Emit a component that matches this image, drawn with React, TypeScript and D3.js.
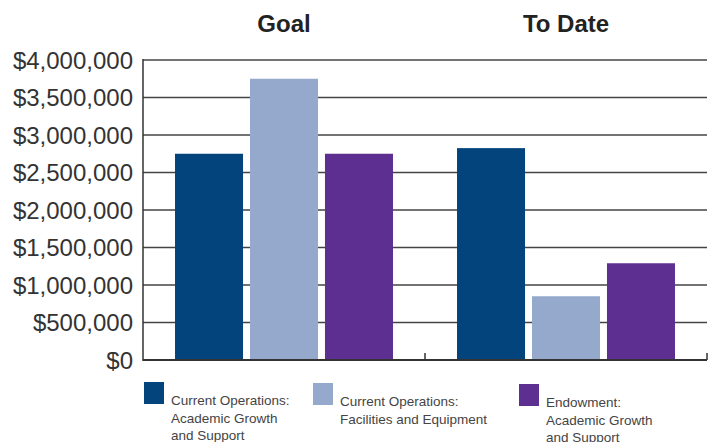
import React from "react";
import * as d3 from "d3";

const groups = ["Goal", "To Date"];
const seriesNames = [
  "Current Operations: Academic Growth and Support",
  "Current Operations: Facilities and Equipment",
  "Endowment: Academic Growth and Support",
];
const goalValues = [2750000, 3750000, 2750000];
const toDateValues = [2825000, 850000, 1290000];
const yTicks = [0, 500000, 1000000, 1500000, 2000000, 2500000, 3000000, 3500000, 4000000];
const colors = ["#03447c", "#94a9cb", "#5c2f91"];
const legendLines = [
  ["Current Operations:", "Academic Growth", "and Support"],
  ["Current Operations:", "Facilities and Equipment"],
  ["Endowment:", "Academic Growth", "and Support"],
];

const W = 714;
const H = 442;
const left = 143;
const right = 707;
const top = 60;
const bottom = 360;

export default function App() {
  const y = d3.scaleLinear().domain([0, 4000000]).range([bottom, top]);
  const x0 = d3.scaleBand<string>().domain(groups).range([left, right]).padding(0);
  const x1 = d3
    .scaleBand<string>()
    .domain(seriesNames)
    .range([0, x0.bandwidth()])
    .paddingInner(0.093)
    .paddingOuter(0.427);
  const fmt = (v: number) => "$" + d3.format(",")(v);
  const data = [goalValues, toDateValues];
  const font = "'Liberation Sans', Arial, Helvetica, sans-serif";
  const legendX = [144, 313, 519];
  const legendDy = [0, 1, 2];

  return (
    <svg
      width={W}
      height={H}
      style={{ position: "absolute", left: 0, top: 0, background: "#fff" }}
      fontFamily={font}
    >
      {/* gridlines */}
      {yTicks.map((t) =>
        t === 0 ? null : (
          <line key={"g" + t} x1={left} x2={right} y1={y(t)} y2={y(t)} stroke="#444" strokeWidth={1.5} />
        )
      )}
      {/* y labels */}
      {yTicks.map((t) => (
        <text
          key={"l" + t}
          x={133}
          y={y(t)}
          dy="0.36em"
          textAnchor="end"
          fontSize={24}
          fill="#333"
        >
          {fmt(t)}
        </text>
      ))}
      {/* bars */}
      {groups.map((g, gi) => (
        <g key={g} transform={`translate(${x0(g)},0)`}>
          {seriesNames.map((s, si) => (
            <rect
              key={s}
              x={x1(s)}
              y={y(data[gi][si])}
              width={x1.bandwidth()}
              height={bottom - y(data[gi][si])}
              fill={colors[si]}
            />
          ))}
          <text
            x={x0.bandwidth() / 2}
            y={32}
            textAnchor="middle"
            fontSize={24}
            fontWeight="bold"
            fill="#222"
          >
            {g}
          </text>
        </g>
      ))}
      {/* axes */}
      <line x1={left} x2={left} y1={top - 1} y2={bottom + 1} stroke="#333" strokeWidth={1.5} />
      <line x1={left} x2={right} y1={bottom} y2={bottom} stroke="#333" strokeWidth={2} />
      {groups.map((g) => (
        <line
          key={"t" + g}
          x1={(x0(g) as number) + x0.bandwidth()}
          x2={(x0(g) as number) + x0.bandwidth()}
          y1={bottom}
          y2={bottom - 7}
          stroke="#333"
          strokeWidth={1.5}
        />
      ))}
      {/* legend */}
      {seriesNames.map((s, i) => (
        <g key={"lg" + s}>
          <rect x={legendX[i]} y={382 + legendDy[i]} width={20} height={22} fill={colors[i]} />
          <text fontSize={13.5} fill="#444">
            {legendLines[i].map((ln, li) => (
              <tspan key={li} x={legendX[i] + 27} y={405 + legendDy[i] + li * 17.5}>
                {ln}
              </tspan>
            ))}
          </text>
        </g>
      ))}
    </svg>
  );
}
